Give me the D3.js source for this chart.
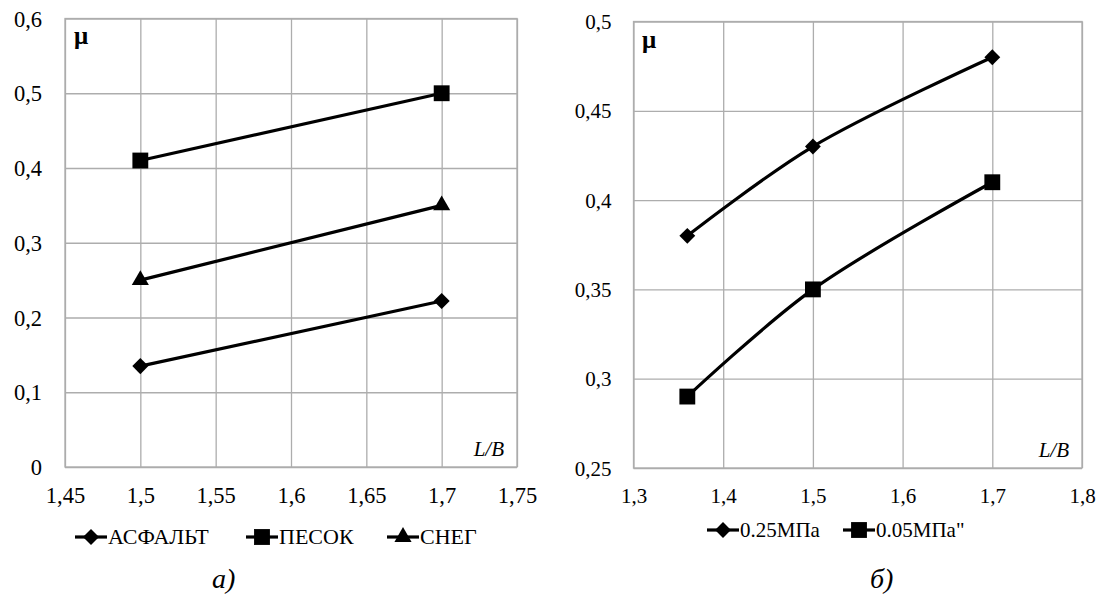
<!DOCTYPE html>
<html><head><meta charset="utf-8">
<script src="https://cdn.jsdelivr.net/npm/d3@7"></script>
<style>body{margin:0;background:#fff}svg{display:block}svg text{font-family:'Liberation Serif'}</style>
</head><body>
<svg id="c" width="1097" height="594" font-family="Liberation Serif"></svg>
<script>
// Chart a)
const aXTicks = [1.45, 1.5, 1.55, 1.6, 1.65, 1.7, 1.75];
const aYTicks = [0, 0.1, 0.2, 0.3, 0.4, 0.5, 0.6];
const aX = [1.5, 1.7];
const asphalt = [0.135, 0.222];
const sand = [0.41, 0.5];
const snow = [0.25, 0.35];
const aNames = ["АСФАЛЬТ", "ПЕСОК", "СНЕГ"];
// Chart б)
const bXTicks = [1.3, 1.4, 1.5, 1.6, 1.7, 1.8];
const bYTicks = [0.25, 0.3, 0.35, 0.4, 0.45, 0.5];
const bX = [1.36, 1.5, 1.7];
const p025 = [0.38, 0.43, 0.48];
const p005 = [0.29, 0.35, 0.41];
const bNames = ["0.25МПа", "0.05МПа\""];

const svg = d3.select("#c");
const fmt = v => String(v).replace(".", ",");
const grid = "#adadad";

function symbolPath(type, size) {
  const t = {diamond: d3.symbolDiamond2, square: d3.symbolSquare2, triangle: d3.symbolTriangle2}[type];
  return d3.symbol(t, size)();
}
function txt(sel, size) {
  return sel.attr("font-family", "Liberation Serif").style("font-family", "'Liberation Serif'")
    .attr("font-size", size).style("font-size", size + "px").attr("fill", "#000");
}

function panel(cfg) {
  const x = d3.scaleLinear().domain(cfg.xd).range([cfg.l, cfg.r]);
  const y = d3.scaleLinear().domain(cfg.yd).range([cfg.b, cfg.t]);
  const g = svg.append("g");
  g.append("g").attr("transform", `translate(0,${cfg.t})`)
    .call(d3.axisBottom(x).tickValues(cfg.xt).tickSize(cfg.b - cfg.t).tickFormat(""))
    .call(s => { s.select(".domain").remove(); s.selectAll("line").attr("stroke", grid).attr("stroke-width", 1.3); });
  g.append("g").attr("transform", `translate(${cfg.l},0)`)
    .call(d3.axisRight(y).tickValues(cfg.yt).tickSize(cfg.r - cfg.l).tickFormat(""))
    .call(s => { s.select(".domain").remove(); s.selectAll("line").attr("stroke", grid).attr("stroke-width", 1.3); });
  g.append("rect").attr("x", cfg.l).attr("y", cfg.t).attr("width", cfg.r - cfg.l).attr("height", cfg.b - cfg.t)
    .attr("fill", "none").attr("stroke", grid).attr("stroke-width", 1.3);
  g.append("g").attr("transform", `translate(0,${cfg.b})`)
    .call(d3.axisBottom(x).tickValues(cfg.xt).tickSize(0).tickPadding(cfg.xpad).tickFormat(fmt))
    .call(s => { s.select(".domain").remove(); s.attr("font-family", "Liberation Serif").attr("font-size", cfg.fs); s.selectAll("text").call(txt, cfg.fs); });
  g.append("g").attr("transform", `translate(${cfg.l},0)`)
    .call(d3.axisLeft(y).tickValues(cfg.yt).tickSize(0).tickPadding(cfg.ypad).tickFormat(fmt))
    .call(s => { s.select(".domain").remove(); s.attr("font-family", "Liberation Serif").attr("font-size", cfg.fs); s.selectAll("text").call(txt, cfg.fs).attr("dy", "0.34em"); });
  g.append("text").attr("x", cfg.mx).attr("y", cfg.my).call(txt, 25).attr("font-weight", "bold").style("font-weight", "bold").text("μ");
  g.append("text").attr("x", cfg.r - 13).attr("y", cfg.b - 11).call(txt, 21).attr("font-style", "italic").style("font-style", "italic").attr("text-anchor", "end").text("L/B");
  cfg.series.forEach(s => {
    const line = d3.line().x((d, i) => x(cfg.xs[i])).y(d => y(d)).curve(cfg.curve);
    g.append("path").datum(s.v).attr("d", line).attr("fill", "none").attr("stroke", "#000").attr("stroke-width", 3.2);
    g.selectAll(null).data(s.v).enter().append("path")
      .attr("transform", (d, i) => `translate(${x(cfg.xs[i])},${y(d)})`)
      .attr("d", symbolPath(s.sym, s.size)).attr("fill", "#000");
  });
  const lg = g.append("g").attr("transform", `translate(0,${cfg.legY})`);
  cfg.series.forEach((s, i) => {
    const x0 = cfg.legX[i];
    lg.append("line").attr("x1", x0).attr("x2", x0 + 32).attr("stroke", "#000").attr("stroke-width", 3.2);
    lg.append("path").attr("transform", `translate(${x0 + 16},0)`).attr("d", symbolPath(s.sym, s.size)).attr("fill", "#000");
    lg.append("text").attr("x", x0 + 33).attr("y", 7).call(txt, cfg.lfs).text(s.name);
  });
  g.append("text").attr("x", cfg.capX).attr("y", 588).call(txt, 28).attr("font-style", "italic").style("font-style", "italic").text(cfg.cap);
}

panel({
  l: 65, r: 517, t: 18.5, b: 467, xd: [1.45, 1.75], yd: [0, 0.6], xt: aXTicks, yt: aYTicks,
  xs: aX, fs: 22.5, lfs: 22, xpad: 20, ypad: 23, curve: d3.curveLinear, mx: 74, my: 44,
  series: [
    {v: asphalt, sym: "diamond", size: 165, name: aNames[0]},
    {v: sand, sym: "square", size: 320, name: aNames[1]},
    {v: snow, sym: "triangle", size: 210, name: aNames[2]}
  ],
  legY: 537, legX: [75, 246, 387], capX: 212, cap: "а)"
});
panel({
  l: 633.5, r: 1082, t: 21.5, b: 468, xd: [1.3, 1.8], yd: [0.25, 0.5], xt: bXTicks, yt: bYTicks,
  xs: bX, fs: 21, lfs: 21, xpad: 20, ypad: 22, curve: d3.curveCatmullRom, mx: 642, my: 48,
  series: [
    {v: p025, sym: "diamond", size: 160, name: bNames[0]},
    {v: p005, sym: "square", size: 320, name: bNames[1]}
  ],
  legY: 530, legX: [707, 843], capX: 870, cap: "б)"
});
</script>
</body></html>
